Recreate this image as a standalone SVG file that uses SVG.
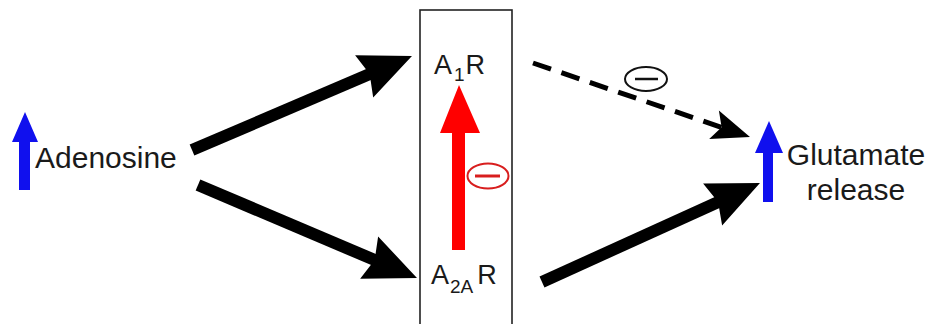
<svg xmlns="http://www.w3.org/2000/svg" width="932" height="324" viewBox="0 0 932 324">
  <style>
    .lbl { font-family: "Liberation Sans", Arial, sans-serif; fill: #1a1a1a; }
    .big { font-size: 30px; }
    .rec { font-size: 27px; }
    .sub { font-size: 19px; }
    .thick { stroke: #000; stroke-width: 12; fill: none; }
    .dash { stroke: #000; stroke-width: 5; fill: none; stroke-dasharray: 19 11; }
    .up-blue { fill: #1010ee; }
  </style>
  <defs>
    <marker id="head" viewBox="0 0 52 46" markerWidth="52" markerHeight="46" refX="8" refY="23" orient="auto" markerUnits="userSpaceOnUse" overflow="visible">
      <path d="M0,0 L52,23 L0,46 L6,23 z" fill="#000"/>
    </marker>
    <marker id="head-small" viewBox="0 0 38 30" markerWidth="38" markerHeight="30" refX="10" refY="15" orient="auto" markerUnits="userSpaceOnUse" overflow="visible">
      <path d="M0,0 L38,15 L0,30 L8,15 z" fill="#000"/>
    </marker>
  </defs>

  <rect width="932" height="324" fill="#fff"/>

  <!-- receptor compartment -->
  <rect id="receptor-box" x="420" y="10" width="92" height="330" fill="none" stroke="#222" stroke-width="1.6"/>

  <g id="adenosine">
    <path class="up-blue" d="M19,190 L30,190 L30,142 L38,142 L25,112 L12,142 L19,142 z"/>
    <text class="lbl big" x="35" y="168">Adenosine</text>
  </g>

  <g id="a1r">
    <text class="lbl rec" x="434" y="74">A<tspan class="sub" dy="7" dx="2">1</tspan><tspan dy="-7" dx="1">R</tspan></text>
  </g>

  <g id="a2ar">
    <text class="lbl rec" x="431" y="284">A<tspan class="sub" dy="9" dx="1">2A</tspan><tspan dy="-9" dx="4">R</tspan></text>
  </g>

  <g id="glutamate">
    <path class="up-blue" d="M763,202 L773,202 L773,153 L783,153 L769,121 L755,153 L763,153 z"/>
    <text class="lbl big" x="856" y="165" text-anchor="middle">Glutamate</text>
    <text class="lbl big" x="856" y="200" text-anchor="middle">release</text>
  </g>

  <g id="connectors">
    <line class="thick" x1="192" y1="150" x2="371.5" y2="73.3" marker-end="url(#head)"/>
    <line class="thick" x1="198" y1="185" x2="376.5" y2="260.8" marker-end="url(#head)"/>
    <line class="thick" x1="542" y1="282" x2="719.9" y2="201.2" marker-end="url(#head)"/>
    <line class="dash" x1="533" y1="63" x2="723.5" y2="128" marker-end="url(#head-small)"/>

    <!-- A2A receptor inhibiting A1 receptor -->
    <path d="M452,250 L465,250 L465,133 L480,133 L459,85 L440,133 L452,133 z" fill="#ff0000"/>
    <g id="inhibit-red">
      <ellipse cx="488" cy="176" rx="20.5" ry="12.5" fill="#fff" stroke="#d81e1e" stroke-width="2"/>
      <line x1="475" y1="176" x2="500" y2="176" stroke="#d81e1e" stroke-width="3"/>
    </g>
    <g id="inhibit-black">
      <ellipse cx="646" cy="79" rx="21" ry="12" fill="#fff" stroke="#111" stroke-width="2"/>
      <line x1="635" y1="79" x2="658" y2="79" stroke="#111" stroke-width="2.5"/>
    </g>
  </g>
</svg>
